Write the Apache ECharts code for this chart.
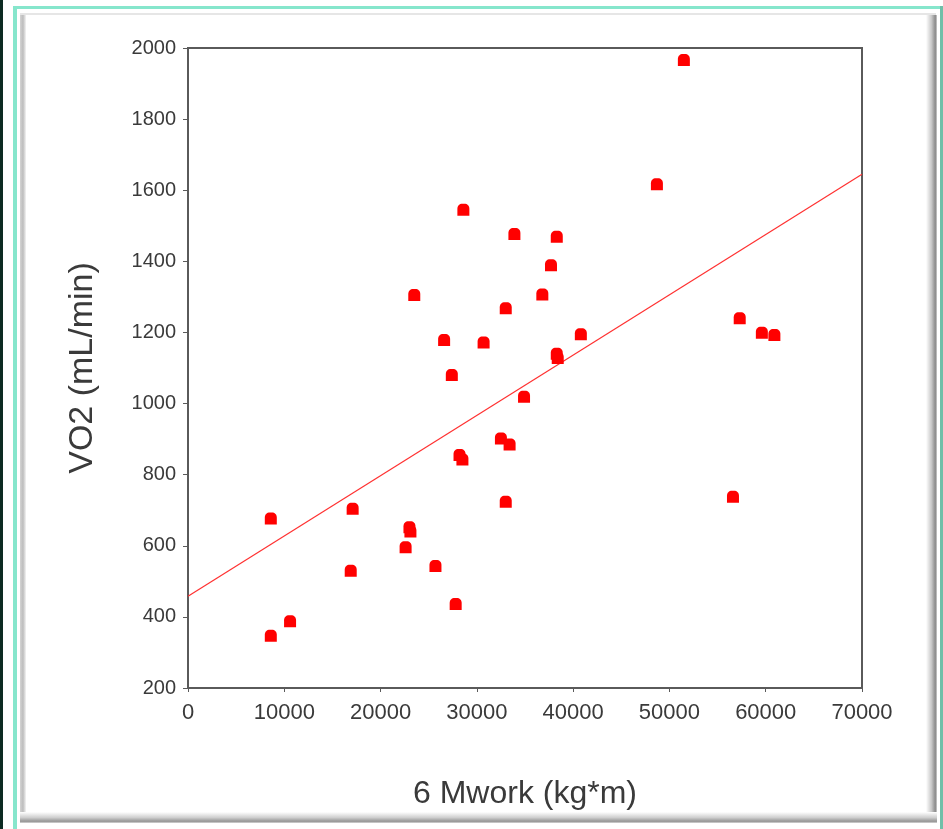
<!DOCTYPE html>
<html>
<head>
<meta charset="utf-8">
<script src="https://cdn.jsdelivr.net/npm/echarts@6/dist/echarts.min.js"></script>
<style>
  html, body { margin: 0; padding: 0; background: #ffffff; }
  #chart { width: 943px; height: 829px; }
</style>
</head>
<body>
<div id="chart"></div>
<script>
// Six-minute work (kg·m) against oxygen uptake for each subject
var workKgM = [
  8600, 8600, 10600, 16900, 17100, 22600, 23000, 23100, 23500, 25700,
  26600, 27400, 27800, 28200, 28500, 28600, 30700, 32500, 33000, 33000,
  33400, 33900, 34900, 36800, 37700, 38300, 38300, 38400, 40800, 48700,
  51500, 56600, 57300, 59600, 60900
];
var vo2MlMin = [
  677, 347, 388, 530, 704, 596, 652, 640, 1305, 543,
  1179, 1080, 436, 855, 843, 1545, 1172, 902, 1268, 724,
  885, 1477, 1019, 1307, 1389, 1469, 1140, 1128, 1195, 1617,
  1966, 738, 1240, 1199, 1193
];

// Least-squares fit line evaluated at the ends of the x range
var fitX = [0, 70000];
var fitY = [458, 1645];

var xTicks = [0, 10000, 20000, 30000, 40000, 50000, 60000, 70000];
var yTicks = [200, 400, 600, 800, 1000, 1200, 1400, 1600, 1800, 2000];

var points = workKgM.map(function (x, i) { return [x, vo2MlMin[i]]; });
var fitLine = fitX.map(function (x, i) { return [x, fitY[i]]; });

var axisGray = '#5a5a5a';
var textGray = '#3a3a3a';
var font = 'Liberation Sans, Arial, sans-serif';
var plain = function (v) { return String(v); };

var chart = echarts.init(document.getElementById('chart'), null, { renderer: 'canvas' });

chart.setOption({
  backgroundColor: '#ffffff',
  animation: false,
  graphic: [
    // dark outer edge on the left
    { type: 'rect', shape: { x: 0, y: 0, width: 3, height: 829 }, style: { fill: '#0c2a22' }, silent: true },
    // teal window border
    { type: 'rect', shape: { x: 13, y: 6, width: 4, height: 823 }, style: { fill: '#86e6cc' }, silent: true },
    { type: 'rect', shape: { x: 13, y: 6, width: 930, height: 3 }, style: { fill: '#86e6cc' }, silent: true },
    { type: 'rect', shape: { x: 940, y: 6, width: 3, height: 823 }, style: { fill: '#6fbfa8' }, silent: true },
    // raised panel: light top line
    { type: 'rect', shape: { x: 20, y: 13, width: 916, height: 2 }, style: { fill: '#e6e6e6' }, silent: true },
    // panel left shadow
    { type: 'rect', shape: { x: 20, y: 15, width: 6, height: 806 },
      style: { fill: new echarts.graphic.LinearGradient(0, 0, 1, 0, [
        { offset: 0, color: '#d4d4d4' }, { offset: 0.5, color: '#bdbdbd' }, { offset: 1, color: '#f4f4f4' }
      ]) }, silent: true },
    // panel right shadow
    { type: 'rect', shape: { x: 926, y: 15, width: 11, height: 808 },
      style: { fill: new echarts.graphic.LinearGradient(0, 0, 1, 0, [
        { offset: 0, color: '#ffffff' }, { offset: 0.5, color: '#c8c8c8' }, { offset: 0.85, color: '#8a8a8a' }, { offset: 1, color: '#d0d0d0' }
      ]) }, silent: true },
    // panel bottom shadow
    { type: 'rect', shape: { x: 20, y: 812, width: 917, height: 11 },
      style: { fill: new echarts.graphic.LinearGradient(0, 0, 0, 1, [
        { offset: 0, color: '#ffffff' }, { offset: 0.5, color: '#cfcfcf' }, { offset: 0.85, color: '#959595' }, { offset: 1, color: '#d8d8d8' }
      ]) }, silent: true }
  ],
  grid: {
    left: 188, right: 81, top: 48, bottom: 141,
    show: true, borderColor: axisGray, borderWidth: 2, backgroundColor: '#ffffff'
  },
  xAxis: {
    type: 'value',
    min: xTicks[0], max: xTicks[xTicks.length - 1], interval: 10000,
    name: '6 Mwork (kg*m)', nameLocation: 'middle', nameGap: 90,
    nameTextStyle: { fontFamily: font, fontSize: 32, color: textGray },
    axisLine: { show: true, lineStyle: { color: axisGray, width: 2 } },
    axisTick: { show: true, length: 4, lineStyle: { color: axisGray, width: 1 } },
    axisLabel: { margin: 14, fontFamily: font, fontSize: 22, color: textGray, formatter: plain },
    splitLine: { show: false }
  },
  yAxis: {
    type: 'value',
    min: yTicks[0], max: yTicks[yTicks.length - 1], interval: 200,
    name: 'VO2 (mL/min)', nameLocation: 'middle', nameGap: 88,
    nameTextStyle: { fontFamily: font, fontSize: 34, color: textGray },
    axisLine: { show: true, lineStyle: { color: axisGray, width: 2 } },
    axisTick: { show: true, length: 5, lineStyle: { color: axisGray, width: 1 } },
    axisLabel: { margin: 12, fontFamily: font, fontSize: 20, color: textGray, formatter: plain },
    splitLine: { show: false }
  },
  series: [
    {
      type: 'line',
      data: fitLine,
      symbol: 'none',
      lineStyle: { color: '#ff3030', width: 1.2 },
      z: 2
    },
    {
      type: 'scatter',
      data: points,
      symbol: 'path://M0,5 C0,2 2,0 5,0 L7,0 C10,0 12,2 12,5 L12,12 L0,12 Z',
      symbolSize: 12,
      itemStyle: { color: '#ff0000', opacity: 1 },
      z: 3
    }
  ]
});
</script>
</body>
</html>
